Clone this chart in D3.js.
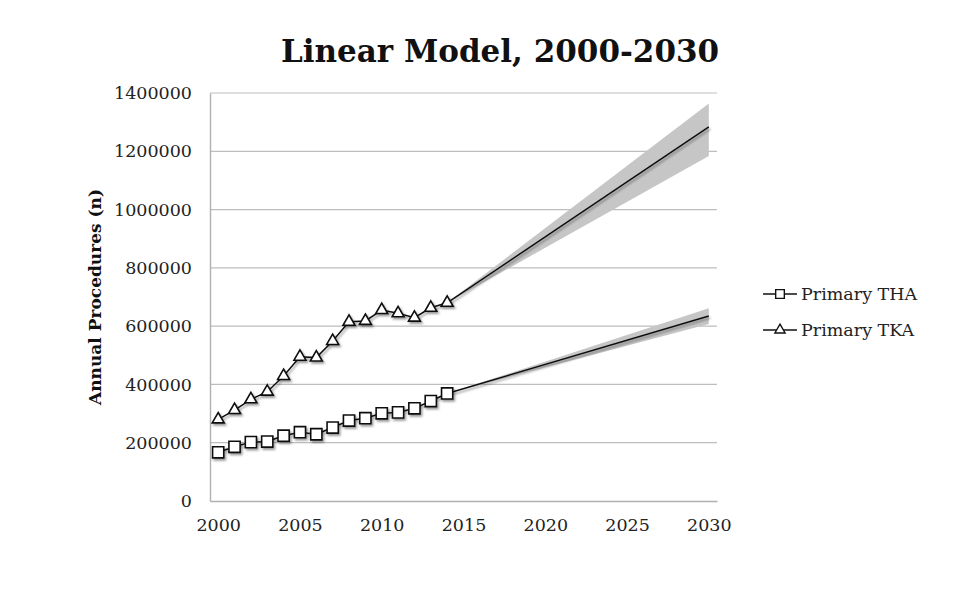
<!DOCTYPE html>
<html>
<head>
<meta charset="utf-8">
<script src="https://cdn.jsdelivr.net/npm/d3@7"></script>
<style>
  html, body { margin: 0; padding: 0; background: #fff; }
  svg { display: block; }
</style>
</head>
<body>
<svg id="chart" width="962" height="612"></svg>
<script>
// ---------- data ----------
const years = [2000,2001,2002,2003,2004,2005,2006,2007,2008,2009,2010,2011,2012,2013,2014];
const thaValues = [167000,186000,202000,204000,224000,236000,229000,252000,276000,284000,301000,304000,318000,343000,369000];
const tkaValues = [280000,312000,349000,375000,429000,495000,492000,549000,615000,618000,655000,644000,629000,663000,680000];
const projYears = [2014, 2030];
const thaProj = [369000, 635000];
const thaProjLow = [369000, 607000];
const thaProjHigh = [369000, 661000];
const tkaProj = [680000, 1284000];
const tkaProjLow = [680000, 1184000];
const tkaProjHigh = [680000, 1364000];
const xTicks = [2000,2005,2010,2015,2020,2025,2030];
const yTicks = [0,200000,400000,600000,800000,1000000,1200000,1400000];
const seriesNames = ["Primary THA", "Primary TKA"];
const titleText = "Linear Model, 2000-2030";
const yLabelText = "Annual Procedures (n)";

// ---------- setup ----------
const svg = d3.select("#chart");
const FONT = "'DejaVu Serif', 'Liberation Serif', serif";
const x = d3.scaleLinear().domain([1999.5, 2030.5]).range([210, 717]);
const y = d3.scaleLinear().domain([0, 1400000]).range([501, 93]);

const defs = svg.append("defs");
const f = defs.append("filter").attr("id", "shadow")
  .attr("x", "-50%").attr("y", "-50%").attr("width", "200%").attr("height", "200%");
f.append("feDropShadow").attr("dx", 1.5).attr("dy", 2).attr("stdDeviation", 1.3)
  .attr("flood-color", "#000").attr("flood-opacity", 0.4);

// title
svg.append("text").attr("x", 500).attr("y", 62)
  .attr("text-anchor", "middle").attr("font-family", FONT)
  .attr("font-weight", "bold").attr("font-size", 31).attr("fill", "#111")
  .text(titleText);

// gridlines
svg.append("g").selectAll("line").data(yTicks.slice(1)).join("line")
  .attr("x1", 210).attr("x2", 717)
  .attr("y1", d => y(d)).attr("y2", d => y(d))
  .attr("stroke", "#bdbdbd").attr("stroke-width", 1.2);

// axes
const yAxis = svg.append("g").attr("transform", "translate(210,0)")
  .call(d3.axisLeft(y).tickValues(yTicks).tickSize(0).tickPadding(18).tickFormat(d3.format("d")));
const xAxis = svg.append("g").attr("transform", "translate(0,501)")
  .call(d3.axisBottom(x).tickValues(xTicks).tickSize(0).tickPadding(18).tickFormat(d3.format("d")));
[yAxis, xAxis].forEach(a => {
  a.select(".domain").attr("stroke", "#b0b0b0").attr("stroke-width", 1.4);
  a.selectAll("text").attr("font-family", FONT).attr("font-size", 17.5).attr("fill", "#222");
});

// y label
svg.append("text")
  .attr("transform", "translate(101,297) rotate(-90)")
  .attr("text-anchor", "middle").attr("font-family", FONT)
  .attr("font-weight", "bold").attr("font-size", 17).attr("fill", "#111")
  .text(yLabelText);

// confidence bands
const area = d3.area().x(d => x(d.yr)).y0(d => y(d.lo)).y1(d => y(d.hi));
[[thaProjLow, thaProjHigh], [tkaProjLow, tkaProjHigh]].forEach(([lo, hi]) => {
  const pts = projYears.map((yr, i) => ({yr, lo: lo[i], hi: hi[i]}));
  svg.append("path").datum(pts).attr("d", area).attr("fill", "#c6c6c6");
});

// projection lines
const line = d3.line().x(d => x(d[0])).y(d => y(d[1]));
[thaProj, tkaProj].forEach(v => {
  svg.append("path").datum(projYears.map((yr, i) => [yr, v[i]]))
    .attr("d", line).attr("fill", "none").attr("stroke", "#111").attr("stroke-width", 1.5)
    .attr("filter", "url(#shadow)");
});

// observed series
const sqPath = d3.symbol().type(d3.symbolSquare).size(125)();
const triPath = d3.symbol().type(d3.symbolTriangle).size(62)();
[[thaValues, sqPath], [tkaValues, triPath]].forEach(([vals, sym]) => {
  const pts = years.map((yr, i) => [yr, vals[i]]);
  const g = svg.append("g").attr("filter", "url(#shadow)");
  g.append("path").datum(pts).attr("d", line)
    .attr("fill", "none").attr("stroke", "#111").attr("stroke-width", 1.5);
  g.selectAll("path.m").data(pts).join("path").attr("class", "m")
    .attr("d", sym)
    .attr("transform", d => `translate(${x(d[0])},${y(d[1])})`)
    .attr("fill", "#fff").attr("stroke", "#111").attr("stroke-width", 1.6);
});

// legend
const legend = svg.append("g");
[[sqPath, 294], [triPath, 330]].forEach(([sym, ly], i) => {
  legend.append("line").attr("x1", 763).attr("x2", 797).attr("y1", ly).attr("y2", ly)
    .attr("stroke", "#111").attr("stroke-width", 1.5);
  legend.append("path").attr("d", i === 0 ? d3.symbol().type(d3.symbolSquare).size(75)() : d3.symbol().type(d3.symbolTriangle).size(45)())
    .attr("transform", `translate(780,${ly})`)
    .attr("fill", "#fff").attr("stroke", "#111").attr("stroke-width", 1.4);
  legend.append("text").attr("x", 801).attr("y", ly).attr("dy", "0.35em")
    .attr("font-family", FONT).attr("font-size", 17.5).attr("fill", "#222")
    .text(seriesNames[i]);
});
</script>
</body>
</html>
